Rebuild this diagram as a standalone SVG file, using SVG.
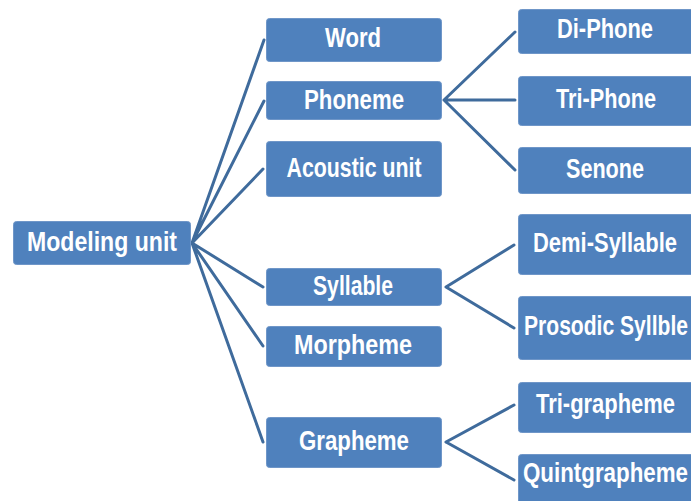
<svg xmlns="http://www.w3.org/2000/svg" width="691" height="501" viewBox="0 0 691 501">
<style>
.box{fill:#4f81bd;stroke:#6f96c8;stroke-width:1}
.t{fill:#fff;font-family:"Liberation Sans",Arial,sans-serif;font-weight:bold;font-size:27px;text-anchor:middle}
.c{stroke:#3f6b9c;stroke-width:3;fill:none;stroke-linecap:round}
</style>
<rect width="691" height="501" fill="#fff"/>
<g id="connectors">
<path class="c" d="M192,243 L264,40 M192,243 L264,101 M192,243 L263,169 M192,243 L263,287 M192,243 L263,346 M192,243 L263,442"/>
<path class="c" d="M444,100 L515,32 M444,100 L515,100 M444,100 L515,170"/>
<path class="c" d="M446,287 L514,245 M446,287 L514,328"/>
<path class="c" d="M446,442 L514,405 M446,442 L514,480"/>
</g>
<g id="modeling-unit"><rect class="box" x="13.5" y="221.5" width="177" height="43" rx="3"/><text class="t" x="102" y="251" textLength="150" lengthAdjust="spacingAndGlyphs">Modeling unit</text></g>
<g id="word"><rect class="box" x="266.5" y="18.5" width="175" height="43" rx="3"/><text class="t" x="353" y="47" textLength="56" lengthAdjust="spacingAndGlyphs">Word</text></g>
<g id="phoneme"><rect class="box" x="266.5" y="81.5" width="175" height="38" rx="3"/><text class="t" x="354" y="109" textLength="100" lengthAdjust="spacingAndGlyphs">Phoneme</text></g>
<g id="acoustic-unit"><rect class="box" x="266.5" y="141.5" width="175" height="55" rx="3"/><text class="t" x="354" y="177" textLength="135" lengthAdjust="spacingAndGlyphs">Acoustic unit</text></g>
<g id="syllable"><rect class="box" x="266.5" y="268.5" width="175" height="37" rx="3"/><text class="t" x="353" y="295" textLength="80" lengthAdjust="spacingAndGlyphs">Syllable</text></g>
<g id="morpheme"><rect class="box" x="266.5" y="326.5" width="175" height="40" rx="3"/><text class="t" x="353" y="354" textLength="118" lengthAdjust="spacingAndGlyphs">Morpheme</text></g>
<g id="grapheme"><rect class="box" x="266.5" y="417.5" width="175" height="50" rx="3"/><text class="t" x="354" y="450" textLength="110" lengthAdjust="spacingAndGlyphs">Grapheme</text></g>
<g id="di-phone"><rect class="box" x="518.5" y="9.5" width="176" height="44" rx="3"/><text class="t" x="605" y="38" textLength="96" lengthAdjust="spacingAndGlyphs">Di-Phone</text></g>
<g id="tri-phone"><rect class="box" x="518.5" y="76.5" width="176" height="49" rx="3"/><text class="t" x="606" y="108" textLength="100" lengthAdjust="spacingAndGlyphs">Tri-Phone</text></g>
<g id="senone"><rect class="box" x="518.5" y="147.5" width="176" height="46" rx="3"/><text class="t" x="605" y="178" textLength="78" lengthAdjust="spacingAndGlyphs">Senone</text></g>
<g id="demi-syllable"><rect class="box" x="518.5" y="214.5" width="176" height="60" rx="3"/><text class="t" x="605" y="252" textLength="144" lengthAdjust="spacingAndGlyphs">Demi-Syllable</text></g>
<g id="prosodic-syllble"><rect class="box" x="518.5" y="296.5" width="176" height="63" rx="3"/><text class="t" x="606" y="335" textLength="164" lengthAdjust="spacingAndGlyphs">Prosodic Syllble</text></g>
<g id="tri-grapheme"><rect class="box" x="518.5" y="382.5" width="176" height="50" rx="3"/><text class="t" x="605.5" y="413" textLength="139" lengthAdjust="spacingAndGlyphs">Tri-grapheme</text></g>
<g id="quintgrapheme"><rect class="box" x="518.5" y="454.5" width="176" height="60" rx="3"/><text class="t" x="605.5" y="482" textLength="165" lengthAdjust="spacingAndGlyphs">Quintgrapheme</text></g>
</svg>
